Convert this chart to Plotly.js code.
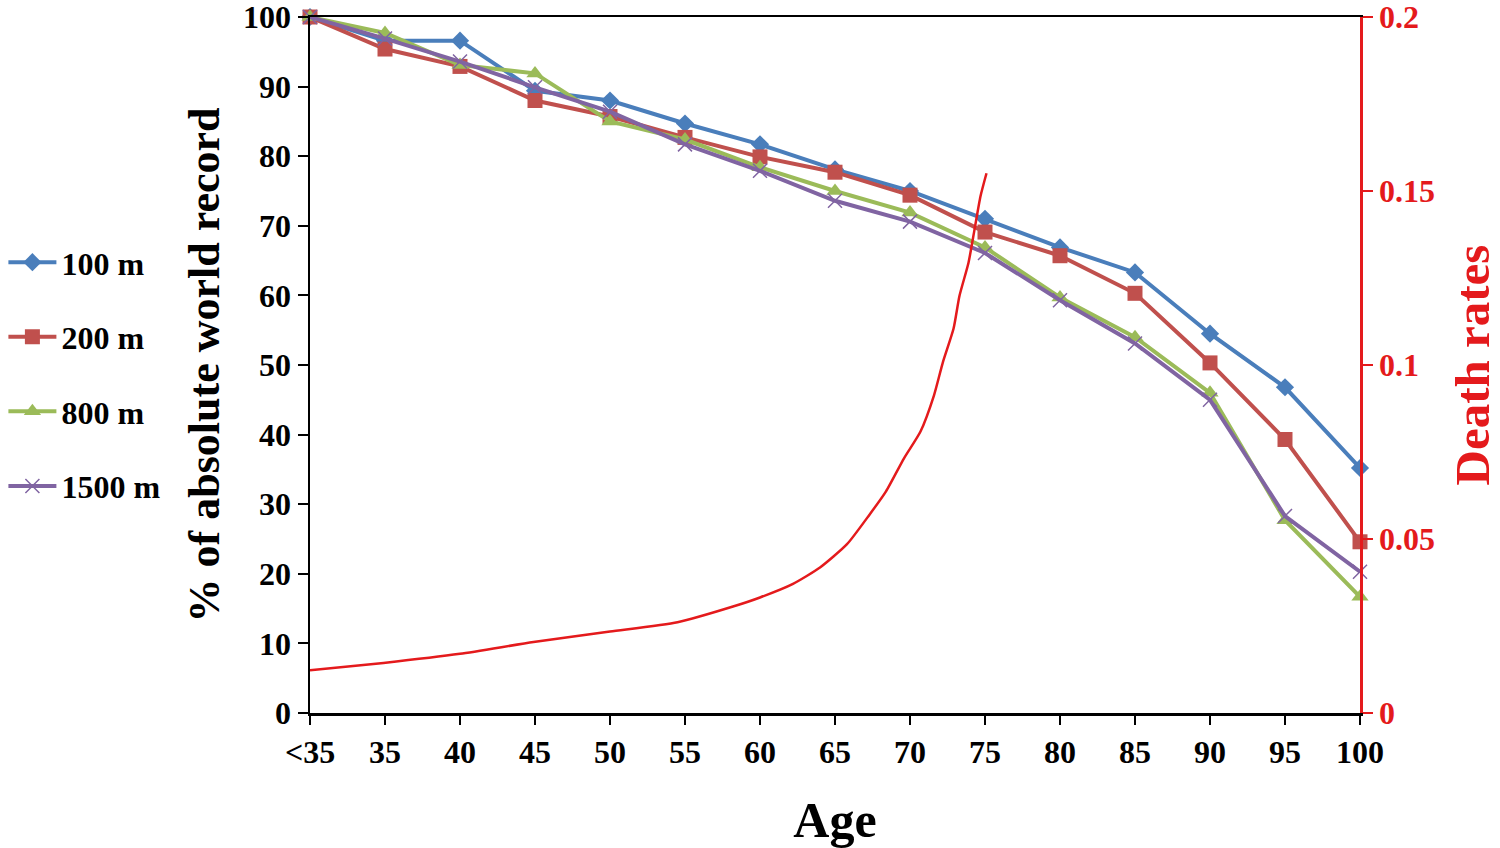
<!DOCTYPE html>
<html>
<head>
<meta charset="utf-8">
<script src="https://cdn.plot.ly/plotly-3.0.1.min.js"></script>
<style>html,body{margin:0;padding:0;background:#fff;}#chart{width:1500px;height:848px;}</style>
</head>
<body>
<div id="chart"></div>
<script>
// Age positions (index 0 = "<35")
const ages = [30, 35, 40, 45, 50, 55, 60, 65, 70, 75, 80, 85, 90, 95, 100];
const ageLabels = ["<35", "35", "40", "45", "50", "55", "60", "65", "70", "75", "80", "85", "90", "95", "100"];

const m100 = [100, 96.6, 96.6, 89.4, 88.0, 84.7, 81.7, 78.1, 75.0, 71.0, 66.9, 63.3, 54.5, 46.8, 35.2];
const m200 = [100, 95.4, 92.9, 88.0, 85.7, 82.7, 79.9, 77.7, 74.4, 69.1, 65.7, 60.3, 50.3, 39.3, 24.6];
const m800 = [100, 97.7, 93.1, 91.9, 85.0, 82.4, 78.4, 75.0, 71.9, 66.9, 59.7, 54.0, 46.0, 27.7, 16.7];
const m1500 = [100, 96.9, 93.6, 89.9, 86.4, 81.7, 77.9, 73.6, 70.6, 66.1, 59.3, 53.1, 45.0, 28.3, 20.3];

// Death rate curve
const deathAge = [30, 34.9, 40, 44.9, 50, 54.5, 58.2, 60, 62.2, 64, 65.8, 67.3, 68.4, 69.6, 70.7, 71.6, 72.2, 72.9, 73.3, 73.9, 74.3, 74.7, 75.1];
const deathRate = [0.0123, 0.0144, 0.0170, 0.0204, 0.0234, 0.0261, 0.0306, 0.0332, 0.0371, 0.0418, 0.0485, 0.0570, 0.0637, 0.0732, 0.0809, 0.0913, 0.1009, 0.1104, 0.1199, 0.1294, 0.1389, 0.1485, 0.1551];

const FONT = "Liberation Serif, Times New Roman, serif";

function series(name, y, color, symbol, size, group) {
  return {
    x: ages, y: y, name: name, type: "scatter", mode: "lines+markers",
    legendgroup: group,
    line: {color: color, width: 4},
    marker: {symbol: symbol, size: size, color: color,
             line: {color: color, width: symbol.indexOf("x") === 0 ? 1.5 : 0}},
    cliponaxis: false
  };
}

const traces = [
  series("100 m", m100, "#4A7EBB", "diamond", 14, "a"),
  series("200 m", m200, "#C0504D", "square", 15, "b"),
  series("800 m", m800, "#9BBB59", "triangle-up", 15, "c"),
  series("1500 m", m1500, "#8064A2", "x-thin", 14, "d"),
  {
    x: deathAge, y: deathRate, name: "Death rates", type: "scatter", mode: "lines",
    yaxis: "y2", showlegend: false,
    line: {color: "#E41A1C", width: 2.5, shape: "spline", smoothing: 0.6},
    cliponaxis: false
  }
];

const layout = {
  width: 1500, height: 848,
  margin: {l: 310, r: 140, t: 17, b: 135, autoexpand: false},
  paper_bgcolor: "#fff", plot_bgcolor: "#fff",
  font: {family: FONT, size: 32, color: "#000"},
  showlegend: true,
  legend: {
    x: -0.292, xanchor: "left", y: 0.687, yanchor: "top",
    font: {family: FONT, size: 32, color: "#000", weight: "bold"},
    traceorder: "grouped", tracegroupgap: 30, itemwidth: 48,
    bgcolor: "rgba(0,0,0,0)"
  },
  xaxis: {
    type: "linear", range: [30, 100],
    tickmode: "array", tickvals: ages, ticktext: ageLabels,
    ticks: "outside", ticklen: 9, tickwidth: 2, tickcolor: "#000",
    showline: true, linecolor: "#000", linewidth: 2.5, mirror: true,
    showgrid: false, zeroline: false, ticklabeloverflow: "allow",
    tickfont: {family: FONT, size: 32, color: "#000", weight: "bold"},
    title: {text: "Age", font: {family: FONT, size: 50, color: "#000", weight: "bold"}, standoff: 34}
  },
  yaxis: {
    range: [0, 100], tickmode: "array", tickvals: [0,10,20,30,40,50,60,70,80,90,100],
    ticks: "outside", ticklen: 10, tickwidth: 2, tickcolor: "#000",
    showline: true, linecolor: "#000", linewidth: 2.5,
    showgrid: false, zeroline: false, ticklabeloverflow: "allow",
    tickfont: {family: FONT, size: 32, color: "#000", weight: "bold"},
    title: {text: "% of absolute world record", font: {family: FONT, size: 44, color: "#000", weight: "bold"}, standoff: 10}
  },
  yaxis2: {
    overlaying: "y", side: "right", range: [0, 0.2],
    tickmode: "array", tickvals: [0, 0.05, 0.1, 0.15, 0.2], ticktext: ["0", "0.05", "0.1", "0.15", "0.2"],
    ticks: "outside", ticklen: 10, tickwidth: 2, tickcolor: "#E41A1C",
    showline: true, linecolor: "#E41A1C", linewidth: 2.5,
    showgrid: false, zeroline: false, ticklabeloverflow: "allow",
    tickfont: {family: FONT, size: 32, color: "#E41A1C", weight: "bold"},
    title: {text: "Death rates", font: {family: FONT, size: 49, color: "#E41A1C", weight: "bold"}, standoff: 42}
  }
};

Plotly.newPlot("chart", traces, layout, {displayModeBar: false, staticPlot: true});
</script>
</body>
</html>
